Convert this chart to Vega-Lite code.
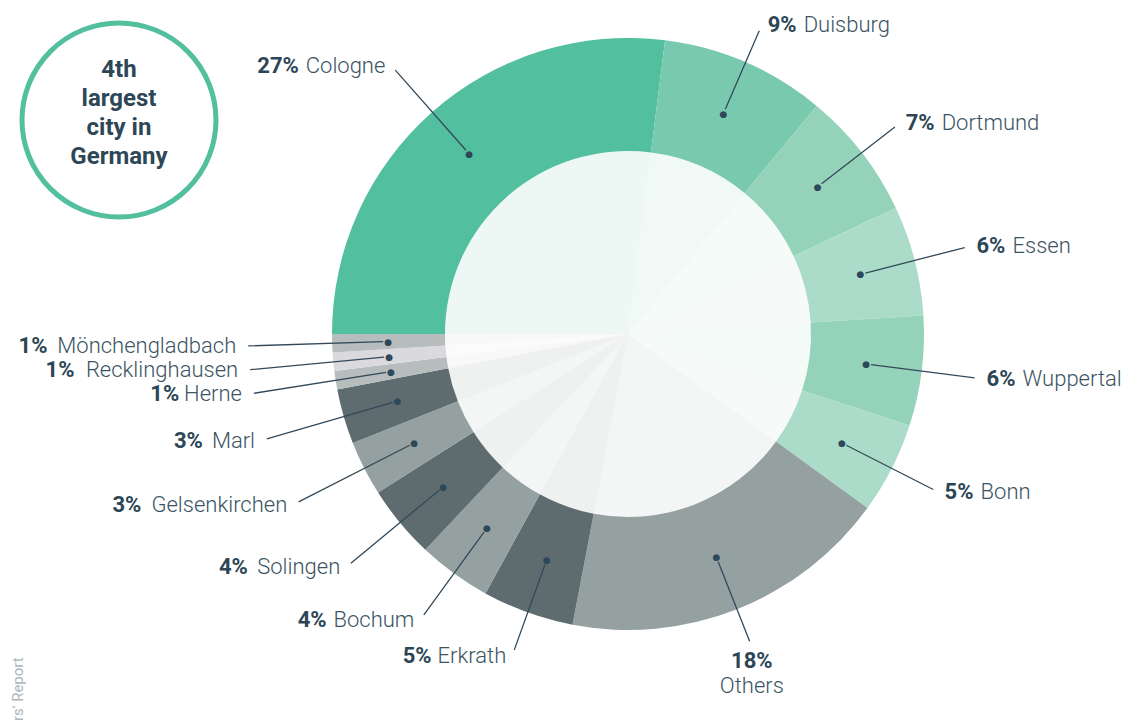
{
  "$schema": "https://vega.github.io/schema/vega-lite/v6.json",
  "background": "white",
  "autosize": {"type": "pad"},
  "padding": {"left": 10, "top": 13, "right": 0, "bottom": 0},
  "config": {"view": {"stroke": null}, "font": "Roboto"},
  "title": {"text": "rs' Report", "orient": "left", "anchor": "start", "frame": "group", "fontSize": 15, "fontWeight": 400, "font": "Roboto", "color": "#adb6bb", "offset": -14, "dx": -701},
  "bounds": "flush",
  "spacing": 109,
  "hconcat": [
    {
      "width": 200,
      "height": 200,
      "data": {"values": [{"note": "4th\nlargest\ncity in\nGermany"}]},
      "layer": [
        {
          "mark": {"type": "point", "shape": "circle", "size": 37636, "filled": false, "stroke": "#52bf9f", "strokeWidth": 5, "opacity": 1},
          "encoding": {}
        },
        {
          "mark": {"type": "text", "lineBreak": "\n", "fontSize": 24, "fontWeight": 700, "lineHeight": 29, "color": "#2e4756", "align": "center", "baseline": "middle", "dy": -50},
          "encoding": {"text": {"field": "note", "type": "nominal"}}
        }
      ]
    },
    {
      "width": 600,
      "height": 628,
      "data": {
        "values": [
          {"i": 1, "city": "Cologne", "share": 0.27},
          {"i": 2, "city": "Duisburg", "share": 0.09},
          {"i": 3, "city": "Dortmund", "share": 0.07},
          {"i": 4, "city": "Essen", "share": 0.06},
          {"i": 5, "city": "Wuppertal", "share": 0.06},
          {"i": 6, "city": "Bonn", "share": 0.05},
          {"i": 7, "city": "Others", "share": 0.18},
          {"i": 8, "city": "Erkrath", "share": 0.05},
          {"i": 9, "city": "Bochum", "share": 0.04},
          {"i": 10, "city": "Solingen", "share": 0.04},
          {"i": 11, "city": "Gelsenkirchen", "share": 0.03},
          {"i": 12, "city": "Marl", "share": 0.03},
          {"i": 13, "city": "Herne", "share": 0.01},
          {"i": 14, "city": "Recklinghausen", "share": 0.01},
          {"i": 15, "city": "Mönchengladbach", "share": 0.01}
        ]
      },
      "encoding": {
        "theta": {"field": "share", "type": "quantitative", "stack": true, "scale": {"range": [4.71238898, 10.99557429]}},
        "order": {"field": "i", "type": "quantitative"}
      },
      "layer": [
        {
          "mark": {"type": "arc", "radius": 296, "radius2": 183},
          "encoding": {
            "color": {
              "field": "city", "type": "nominal", "legend": null,
              "scale": {
                "domain": ["Cologne", "Duisburg", "Dortmund", "Essen", "Wuppertal", "Bonn", "Others", "Erkrath", "Bochum", "Solingen", "Gelsenkirchen", "Marl", "Herne", "Recklinghausen", "Mönchengladbach"],
                "range": ["#52bf9f", "#78c9ae", "#94d3b9", "#abdcca", "#94d3b9", "#abdcca", "#95a0a0", "#5f6c6f", "#95a0a0", "#5f6c6f", "#95a0a0", "#5f6c6f", "#b7bcbd", "#d9d9de", "#b7bcbd"]
              }
            }
          }
        },
        {
          "mark": {"type": "arc", "radius": 183, "radius2": 0, "opacity": 0.1},
          "encoding": {
            "color": {"field": "city", "type": "nominal", "legend": null}
          }
        },
        {
          "mark": {
            "type": "arc", "radius2": 245, "padAngle": 3, "filled": false, "stroke": "#33495a", "strokeWidth": 1.3,
            "radius": {"expr": "330 + (cos(PI*(datum.share_start+datum.share_end)) > 0 ? 50*pow(cos(PI*(datum.share_start+datum.share_end)),2) : 20*pow(cos(PI*(datum.share_start+datum.share_end)),4))"}
          }
        },
        {
          "mark": {"type": "text", "radius": 240, "font": "DejaVu Sans", "fontSize": 9, "color": "#2f4858", "align": "center", "baseline": "middle"},
          "encoding": {"text": {"value": "●"}}
        },
        {
          "mark": {
            "type": "text", "fontSize": 22, "fontWeight": 700, "color": "#2c4655", "baseline": "middle",
            "radius": {"expr": "336 + (cos(PI*(datum.share_start+datum.share_end)) > 0 ? 50*pow(cos(PI*(datum.share_start+datum.share_end)),2) : 20*pow(cos(PI*(datum.share_start+datum.share_end)),4))"},
            "align": {"expr": "indexof(['Duisburg','Dortmund','Essen','Wuppertal','Bonn'], datum.city) >= 0 ? 'left' : (datum.city == 'Others' ? 'center' : 'right')"},
            "dx": {"expr": "indexof(['Duisburg','Dortmund','Essen','Wuppertal','Bonn'], datum.city) >= 0 ? 6 : (datum.city == 'Others' ? 0 : -(13 + 11.88*length(datum.city) - 5.9*(length(datum.city) - length(replace(datum.city, regexp('[iltrfj]','g'), ''))) + 7.3*(length(datum.city) - length(replace(datum.city, regexp('[mM]','g'), ''))) + 2.2))"},
            "dy": {"expr": "datum.city == 'Others' ? 14 : 0"}
          },
          "encoding": {"text": {"field": "share", "type": "quantitative", "format": ".0%"}}
        },
        {
          "mark": {
            "type": "text", "fontSize": 22, "fontWeight": 300, "color": "#3b5463", "baseline": "middle",
            "radius": {"expr": "336 + (cos(PI*(datum.share_start+datum.share_end)) > 0 ? 50*pow(cos(PI*(datum.share_start+datum.share_end)),2) : 20*pow(cos(PI*(datum.share_start+datum.share_end)),4))"},
            "align": {"expr": "indexof(['Duisburg','Dortmund','Essen','Wuppertal','Bonn'], datum.city) >= 0 ? 'left' : (datum.city == 'Others' ? 'center' : 'right')"},
            "dx": {"expr": "indexof(['Duisburg','Dortmund','Essen','Wuppertal','Bonn'], datum.city) >= 0 ? 42 : (datum.city == 'Others' ? 0 : -6)"},
            "dy": {"expr": "datum.city == 'Others' ? 39 : 0"}
          },
          "encoding": {"text": {"field": "city", "type": "nominal"}}
        }
      ]
    }
  ]
}
